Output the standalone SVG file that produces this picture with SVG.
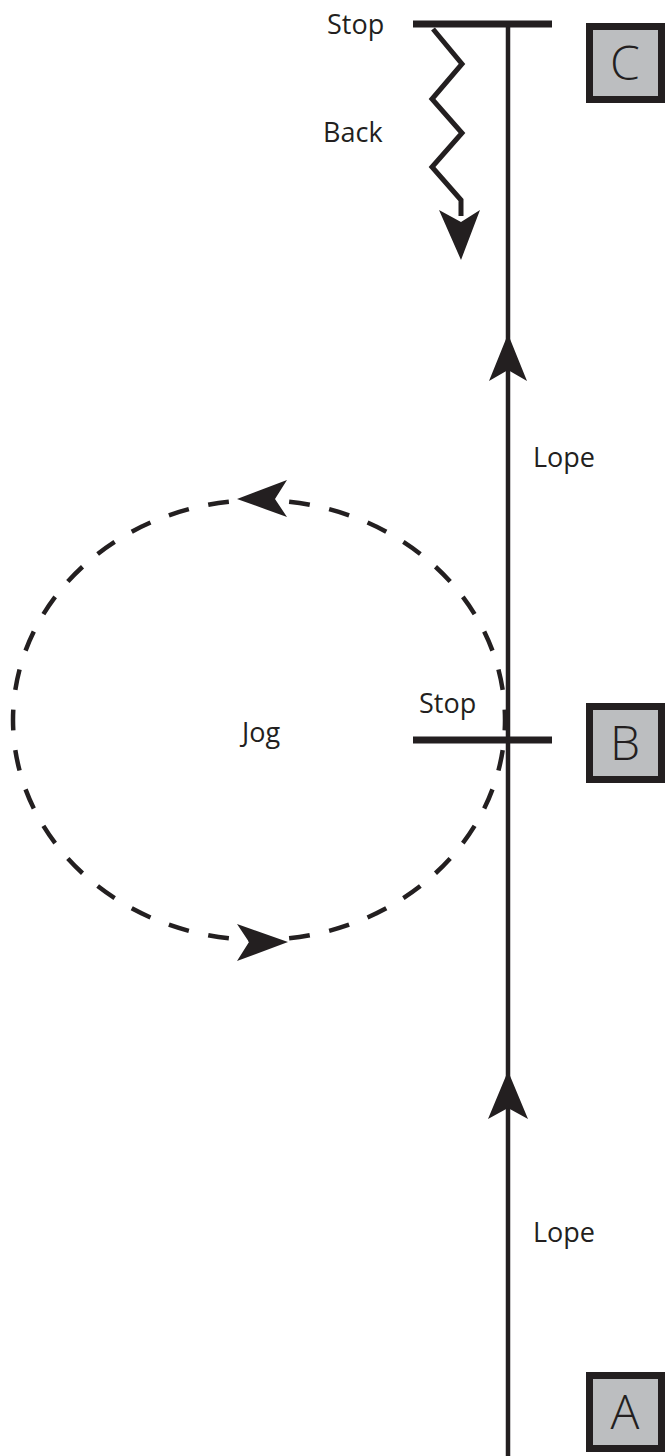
<svg xmlns="http://www.w3.org/2000/svg" width="666" height="1456" viewBox="0 0 666 1456">
<style>
.lbl{font-family:"Open Sans","Noto Sans","Liberation Sans",sans-serif;font-size:27px;fill:#231f20}
.box{fill:#bcbec0;stroke:#231f20;stroke-width:7}
.boxt{font-family:"Open Sans","Noto Sans","Liberation Sans",sans-serif;font-size:48px;font-weight:300;fill:#231f20;text-anchor:middle}
.ln{stroke:#231f20;fill:none}
.ah{fill:#231f20;stroke:none}
</style>
<rect width="666" height="1456" fill="#ffffff"/>
<g id="connectors">
  <line class="ln" x1="508" y1="24" x2="508" y2="1456" stroke-width="4.5"/>
  <path class="ah" d="M508,334 L527,381 L508,370 L489,381 Z"/>
  <path class="ah" d="M508,1071 L528,1119 L508,1108 L488,1119 Z"/>
  <path class="ln" stroke-width="4.5" stroke-dasharray="20.5 19.5" stroke-dashoffset="10.25" pathLength="1440" d="M13,720 A246,220 0 1 1 505,720 A246,220 0 1 1 13,720 Z"/>
  <path class="ah" d="M237,499 L287,480 L275,499 L287,517 Z"/>
  <path class="ah" d="M288,942 L237,924 L249,942 L237,961 Z"/>
  <polyline class="ln" stroke-width="5" points="433,29 462,64 432,99 462,133 432,167 461,200 461,216"/>
  <path class="ah" d="M461,260 L480,210 L461,222 L439,210 Z"/>
</g>
<g id="stopC">
  <line class="ln" x1="413" y1="24" x2="552" y2="24" stroke-width="7"/>
  <text class="lbl" x="327" y="34">Stop</text>
</g>
<g id="back">
  <text class="lbl" x="323" y="142">Back</text>
</g>
<g id="lope1">
  <text class="lbl" x="533" y="467">Lope</text>
</g>
<g id="lope2">
  <text class="lbl" x="533" y="1242">Lope</text>
</g>
<g id="jog">
  <text class="lbl" x="242" y="742">Jog</text>
</g>
<g id="stopB">
  <line class="ln" x1="413" y1="740" x2="552" y2="740" stroke-width="7"/>
  <text class="lbl" x="419" y="713">Stop</text>
</g>
<g id="nodeC">
  <rect class="box" x="589.5" y="26.5" width="72" height="73"/>
  <text class="boxt" x="625" y="80">C</text>
</g>
<g id="nodeB">
  <rect class="box" x="589.5" y="706.5" width="72" height="73"/>
  <text class="boxt" x="625" y="760">B</text>
</g>
<g id="nodeA">
  <rect class="box" x="589.5" y="1375.5" width="72" height="73"/>
  <text class="boxt" x="625" y="1429">A</text>
</g>
</svg>
